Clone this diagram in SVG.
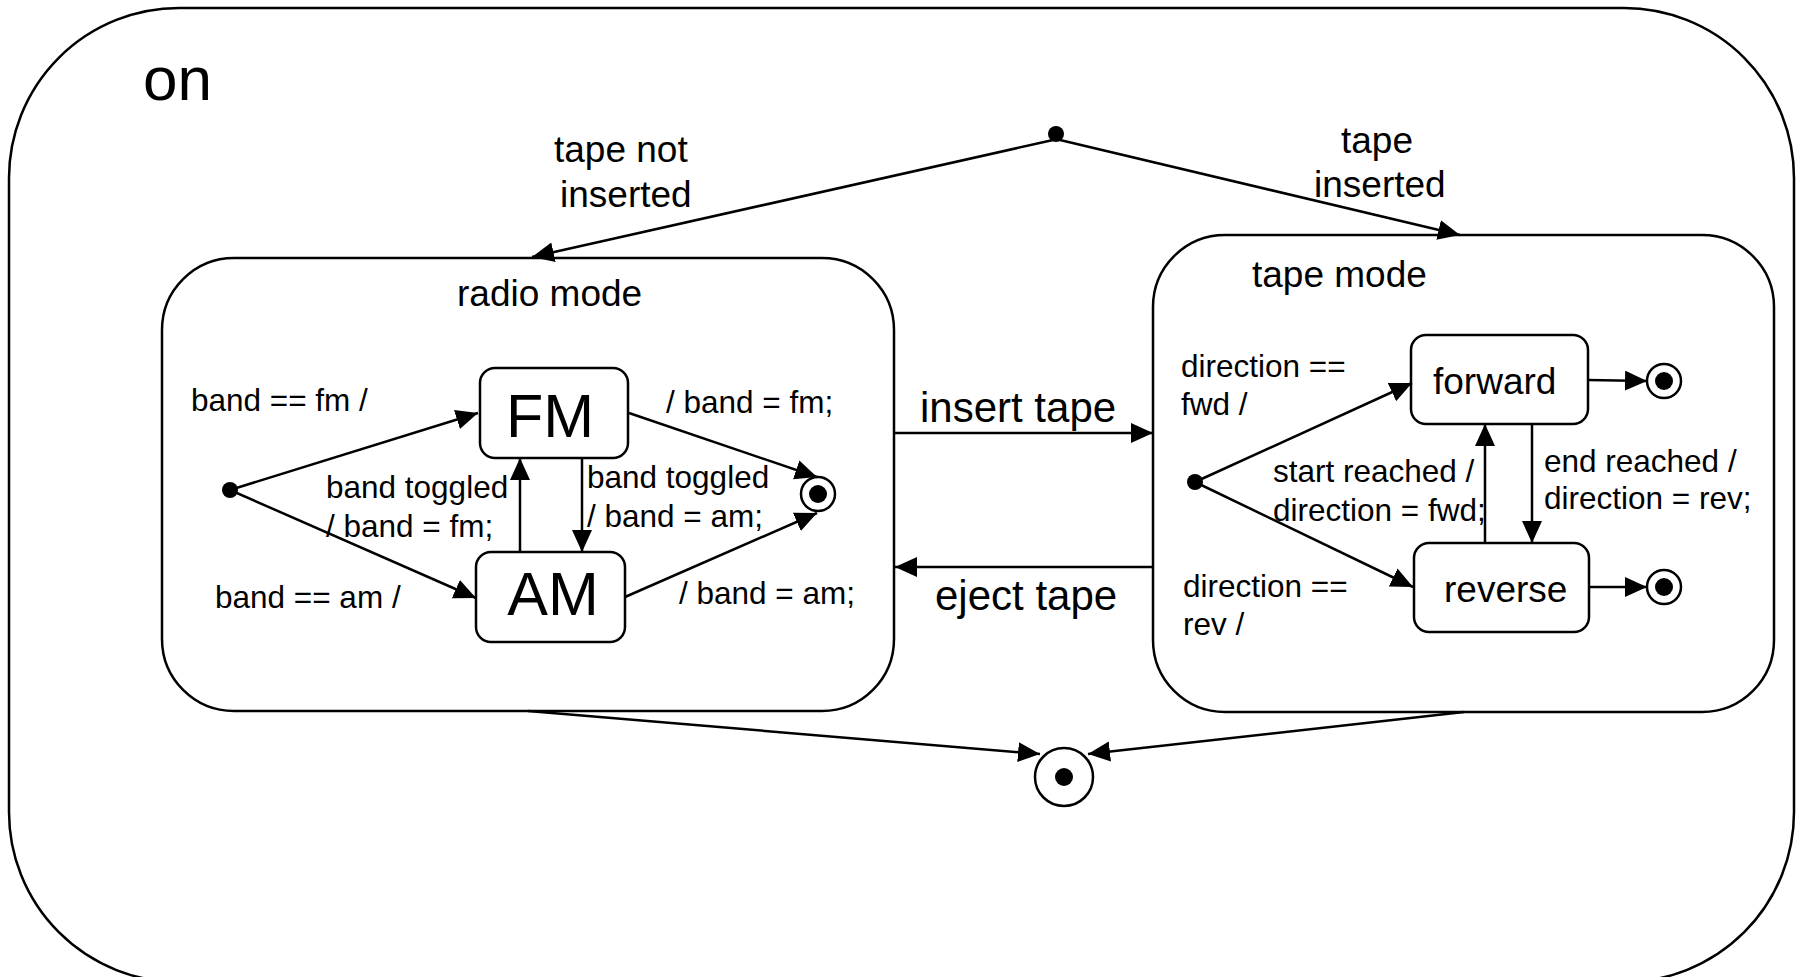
<svg xmlns="http://www.w3.org/2000/svg" width="1800" height="977" viewBox="0 0 1800 977">
<style>
.box{fill:#fff;stroke:#000;stroke-width:2.5}
.frame{fill:#fff;stroke:#000;stroke-width:2.5}
.ln{fill:none;stroke:#000;stroke-width:2.5;marker-end:url(#arr)}
.dot{fill:#000}
.fin{fill:#fff;stroke:#000;stroke-width:2.5}
text{font-family:"Liberation Sans",Arial,Helvetica,sans-serif;fill:#000}
.s{font-size:31.5px}
.m{font-size:37px}
.l{font-size:42px}
.xl{font-size:61px}
</style>
<defs>
<marker id="arr" markerUnits="userSpaceOnUse" markerWidth="24" markerHeight="22" refX="22" refY="10" orient="auto">
<path d="M0,0 L22,10 L0,20 z" fill="#000"/>
</marker>
</defs>
<rect width="1800" height="977" fill="#fff"/>
<g id="on">
<rect class="frame" x="9" y="8" width="1785" height="974" rx="170" ry="170"/>
<text x="143" y="100" style="font-size:62px">on</text>
</g>
<g id="radio-mode">
<rect class="box" x="162" y="258" width="732" height="453" rx="72" ry="72"/>
<text class="m" x="457" y="306">radio mode</text>
</g>
<g id="tape-mode">
<rect class="box" x="1153" y="235" width="621" height="477" rx="72" ry="72"/>
<text class="m" x="1252" y="287">tape mode</text>
</g>
<g id="FM">
<rect class="box" x="480" y="368" width="148" height="90" rx="15"/>
<text class="xl" x="550" y="437" text-anchor="middle">FM</text>
</g>
<g id="AM">
<rect class="box" x="476" y="552" width="149" height="90" rx="15"/>
<text class="xl" x="553" y="615" text-anchor="middle">AM</text>
</g>
<g id="forward">
<rect class="box" x="1411" y="335" width="177" height="89" rx="15"/>
<text class="m" x="1433" y="394">forward</text>
</g>
<g id="reverse">
<rect class="box" x="1414" y="543" width="175" height="89" rx="15"/>
<text class="m" x="1444" y="602">reverse</text>
</g>
<g id="init-top"><circle class="dot" cx="1056" cy="134" r="8"/></g>
<g id="init-radio"><circle class="dot" cx="230" cy="490" r="8"/></g>
<g id="init-tape"><circle class="dot" cx="1195" cy="482" r="8"/></g>
<g id="final-radio"><circle class="fin" cx="818" cy="494" r="17"/><circle class="dot" cx="818" cy="494" r="9"/></g>
<g id="final-forward"><circle class="fin" cx="1664" cy="381" r="17"/><circle class="dot" cx="1664" cy="381" r="9"/></g>
<g id="final-reverse"><circle class="fin" cx="1664" cy="587" r="17"/><circle class="dot" cx="1664" cy="587" r="9"/></g>
<g id="final-on"><circle class="fin" cx="1064" cy="777" r="29"/><circle class="dot" cx="1064" cy="777" r="9"/></g>
<g id="connectors">
<line class="ln" x1="1053" y1="140" x2="532" y2="257"/>
<line class="ln" x1="1060" y1="140" x2="1460" y2="235"/>
<line class="ln" x1="230" y1="490" x2="478" y2="413"/>
<line class="ln" x1="230" y1="490" x2="476" y2="598"/>
<line class="ln" x1="520" y1="552" x2="520" y2="458"/>
<line class="ln" x1="582" y1="458" x2="582" y2="552"/>
<line class="ln" x1="629" y1="413" x2="817" y2="477"/>
<line class="ln" x1="625" y1="597" x2="817" y2="513"/>
<line class="ln" x1="894" y1="433" x2="1153" y2="433"/>
<line class="ln" x1="1153" y1="567" x2="895" y2="567"/>
<line class="ln" x1="1195" y1="482" x2="1412" y2="383"/>
<line class="ln" x1="1195" y1="482" x2="1413" y2="587"/>
<line class="ln" x1="1485" y1="543" x2="1485" y2="424"/>
<line class="ln" x1="1532" y1="424" x2="1532" y2="543"/>
<line class="ln" x1="1588" y1="380" x2="1647" y2="381"/>
<line class="ln" x1="1589" y1="587" x2="1647" y2="587"/>
<line class="ln" x1="528" y1="711" x2="1040" y2="754"/>
<line class="ln" x1="1464" y1="712" x2="1088" y2="754"/>
<text class="m" x="554" y="162">tape not</text>
<text class="m" x="560" y="207">inserted</text>
<text class="m" x="1341" y="153">tape</text>
<text class="m" x="1314" y="197">inserted</text>
<text class="s" x="191" y="411">band == fm /</text>
<text class="s" x="215" y="608">band == am /</text>
<text class="s" x="326" y="498">band toggled</text>
<text class="s" x="326" y="537">/ band = fm;</text>
<text class="s" x="587" y="488">band toggled</text>
<text class="s" x="587" y="527">/ band = am;</text>
<text class="s" x="666" y="413">/ band = fm;</text>
<text class="s" x="679" y="604">/ band = am;</text>
<text class="l" x="920" y="422">insert tape</text>
<text class="l" x="935" y="610">eject tape</text>
<text class="s" x="1181" y="377">direction ==</text>
<text class="s" x="1181" y="415">fwd /</text>
<text class="s" x="1183" y="597">direction ==</text>
<text class="s" x="1183" y="635">rev /</text>
<text class="s" x="1273" y="482">start reached /</text>
<text class="s" x="1273" y="521">direction = fwd;</text>
<text class="s" x="1544" y="472">end reached /</text>
<text class="s" x="1544" y="509">direction = rev;</text>
</g>
</svg>
